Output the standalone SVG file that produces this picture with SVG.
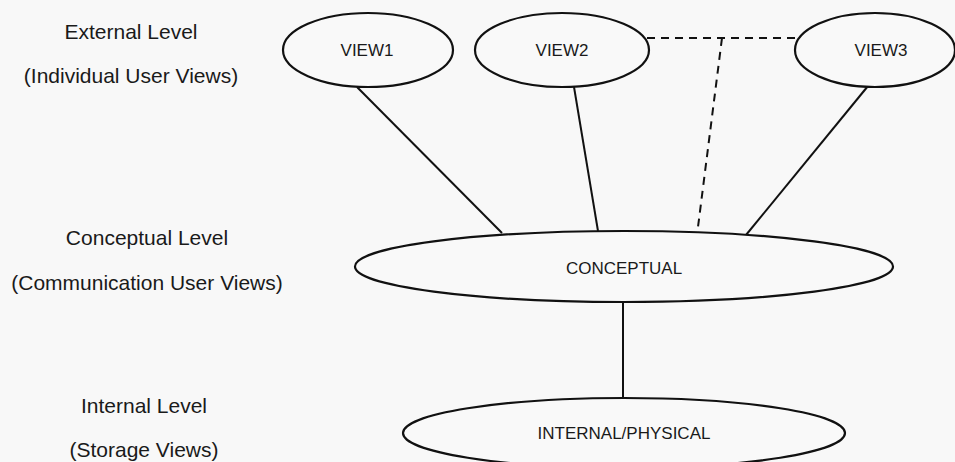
<svg xmlns="http://www.w3.org/2000/svg" width="955" height="462" viewBox="0 0 955 462">
  <style>
    .bg { fill: #f8f8f8; }
    .node ellipse { fill: #f9f9f9; stroke: #111; stroke-width: 2.2; }
    .node text { font-family: "Liberation Sans", Arial, sans-serif; font-size: 17px; fill: #1a1a1a; text-anchor: middle; }
    .level { font-family: "Liberation Sans", Arial, sans-serif; font-size: 21px; fill: #1a1a1a; text-anchor: middle; }
    .link { stroke: #111; stroke-width: 2; fill: none; }
    .dash { stroke-dasharray: 8 6; }
  </style>

  <rect class="bg" x="0" y="0" width="955" height="462"/>

  <!-- level captions -->
  <g id="captions">
    <text class="level" x="131" y="39">External Level</text>
    <text class="level" x="131" y="83">(Individual User Views)</text>
    <text class="level" x="147" y="245">Conceptual Level</text>
    <text class="level" x="147" y="290">(Communication User Views)</text>
    <text class="level" x="144" y="413">Internal Level</text>
    <text class="level" x="144" y="457">(Storage Views)</text>
  </g>

  <!-- connectors -->
  <g id="connectors">
    <line class="link" x1="357" y1="87" x2="502" y2="233"/>
    <line class="link" x1="574" y1="87" x2="598" y2="231"/>
    <line class="link" x1="868" y1="86" x2="746" y2="235"/>
    <line class="link" x1="623" y1="302" x2="623" y2="398"/>
    <polyline class="link dash" points="647,38 797,38"/>
    <line class="link dash" x1="722" y1="38" x2="698" y2="227"/>
  </g>

  <!-- nodes -->
  <g id="view1" class="node">
    <ellipse cx="368" cy="50" rx="85" ry="37"/>
    <text x="367" y="56">VIEW1</text>
  </g>
  <g id="view2" class="node">
    <ellipse cx="562" cy="50" rx="87" ry="37"/>
    <text x="562" y="56">VIEW2</text>
  </g>
  <g id="view3" class="node">
    <ellipse cx="875" cy="50" rx="80" ry="37"/>
    <text x="881" y="56">VIEW3</text>
  </g>
  <g id="conceptual" class="node">
    <ellipse cx="624" cy="266.5" rx="269" ry="35.5"/>
    <text x="624" y="274">CONCEPTUAL</text>
  </g>
  <g id="internal" class="node">
    <ellipse cx="624" cy="433" rx="221" ry="35"/>
    <text x="624" y="439">INTERNAL/PHYSICAL</text>
  </g>
</svg>
